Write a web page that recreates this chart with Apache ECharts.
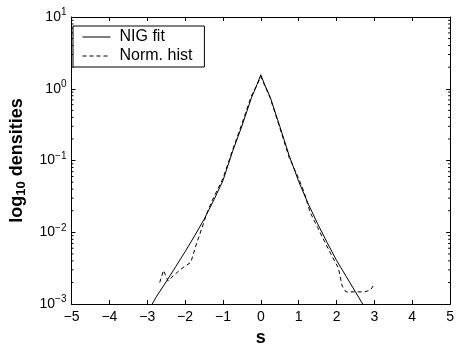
<!DOCTYPE html>
<html>
<head>
<meta charset="utf-8">
<script src="https://cdn.jsdelivr.net/npm/echarts@6/dist/echarts.min.js"></script>
<style>
  html, body { margin: 0; padding: 0; background: #fff; }
  #chart { width: 457px; height: 352px; }
</style>
</head>
<body>
<div id="chart"></div>
<script>
// s values and densities
const nigS = [-3.0, -2.75, -2.5, -2.25, -2.0, -1.75, -1.5, -1.25, -1.0, -0.75, -0.5, -0.25, -0.1, 0,
  0.1, 0.25, 0.5, 0.75, 1.0, 1.25, 1.5, 1.75, 2.0, 2.25, 2.5, 2.75];
const nigDensity = [0.00076, 0.00129, 0.00204, 0.00331, 0.00537, 0.00891, 0.0151, 0.0275, 0.0525, 0.132, 0.302, 0.741, 1.148, 1.567,
  1.148, 0.759, 0.302, 0.117, 0.0513, 0.0251, 0.0132, 0.00724, 0.00407, 0.00245, 0.00148, 0.00089];

const histS = [-2.67, -2.57, -2.45, -2.3, -2.15, -2.0, -1.85, -1.7, -1.55, -1.4, -1.25, -1.0, -0.75, -0.5, -0.25, -0.1, 0,
  0.1, 0.25, 0.5, 0.75, 1.0, 1.15, 1.3, 1.5, 1.65, 1.85, 2.05, 2.15, 2.25, 2.5, 2.75, 2.9, 3.0];
const histDensity = [0.0020, 0.00295, 0.00209, 0.00251, 0.00295, 0.00339, 0.0038, 0.0069, 0.0117, 0.0200, 0.0302, 0.0562, 0.138, 0.324, 0.794, 1.122, 1.479,
  1.122, 0.741, 0.288, 0.110, 0.0562, 0.0355, 0.0191, 0.0117, 0.0081, 0.0050, 0.00316, 0.00178, 0.00148, 0.00148, 0.00148, 0.00158, 0.00191];

const decades = [-3, -2, -1, 0, 1];

// minor log ticks 2..9 x 10^k
const minorTicks = [];
decades.slice(0, -1).forEach((k) => {
  for (let m = 2; m <= 9; m++) minorTicks.push(m * Math.pow(10, k));
});

const font = 'Liberation Sans, Arial, Helvetica, sans-serif';
const chart = echarts.init(document.getElementById('chart'));

const axisLine = { show: true, onZero: false, lineStyle: { color: '#000', width: 1 } };
const tick = { inside: true, length: 4, lineStyle: { color: '#000' } };
const yLabelRich = {
  b: { fontSize: 14, fontFamily: font, color: '#000' },
  e: { fontSize: 10, fontFamily: font, color: '#000', padding: [0, 0, 9, 0] },
};

const option = {
  animation: false,
  backgroundColor: '#fff',
  grid: { left: 71, right: 5, top: 17, bottom: 41 },
  legend: {
    orient: 'vertical',
    left: 73,
    top: 26,
    data: ['NIG fit', 'Norm. hist'],
    itemWidth: 28,
    itemHeight: 12,
    itemGap: 3,
    padding: [3, 12, 3, 9],
    borderColor: '#000',
    borderWidth: 1,
    backgroundColor: '#fff',
    itemStyle: { opacity: 0, borderWidth: 0 },
    lineStyle: { width: 1 },
    textStyle: { fontSize: 16, fontFamily: font, color: '#000', padding: [0, 0, 0, 4] },
  },
  xAxis: [
    {
      type: 'value',
      min: -5,
      max: 5,
      interval: 1,
      name: 's',
      nameLocation: 'middle',
      nameGap: 21,
      nameTextStyle: { fontSize: 18, fontWeight: 'bold', fontFamily: font, color: '#000' },
      axisLine,
      axisTick: tick,
      axisLabel: {
        fontSize: 14,
        fontFamily: font,
        color: '#000',
        margin: 6,
        formatter: (v) => (v < 0 ? '\u2212' + Math.abs(v) : String(v)),
      },
      splitLine: { show: false },
    },
    {
      type: 'value',
      position: 'top',
      min: -5,
      max: 5,
      interval: 1,
      axisLine,
      axisTick: tick,
      axisLabel: { show: false },
      splitLine: { show: false },
    },
  ],
  yAxis: [
    {
      type: 'log',
      logBase: 10,
      min: 0.001,
      max: 10,
      name: '{a|log}{s|10}{a| densities}',
      nameLocation: 'middle',
      nameGap: 44,
      nameTextStyle: {
        rich: {
          a: { fontSize: 18, fontWeight: 'bold', fontFamily: font, color: '#000' },
          s: { fontSize: 13, fontWeight: 'bold', fontFamily: font, color: '#000', padding: [8, 0, 0, 0] },
        },
      },
      axisLine,
      axisTick: tick,
      axisLabel: {
        margin: 5,
        formatter: (v) => {
          const k = Math.round(Math.log10(v));
          return '{b|10}{e|' + (k < 0 ? '\u2212' + Math.abs(k) : k) + '}';
        },
        rich: yLabelRich,
      },
      splitLine: { show: false },
    },
    {
      type: 'log',
      logBase: 10,
      min: 0.001,
      max: 10,
      position: 'right',
      axisLine,
      axisTick: tick,
      axisLabel: { show: false },
      splitLine: { show: false },
    },
  ],
  series: [
    {
      name: 'NIG fit',
      type: 'line',
      data: nigS.map((s, i) => [s, nigDensity[i]]),
      symbol: 'none',
      smooth: false,
      clip: true,
      lineStyle: { color: '#000', width: 1 },
      itemStyle: { color: '#000' },
    },
    {
      name: 'Norm. hist',
      type: 'line',
      data: histS.map((s, i) => [s, histDensity[i]]),
      symbol: 'none',
      smooth: false,
      clip: true,
      lineStyle: { color: '#000', width: 1, type: [4, 3] },
      itemStyle: { color: '#000' },
    },
    {
      name: 'minor',
      type: 'custom',
      data: minorTicks.map((v) => [v]),
      silent: true,
      clip: false,
      renderItem: (params, api) => {
        const v = api.value(0);
        const l = api.coord([-5, v]);
        const r = api.coord([5, v]);
        return {
          type: 'group',
          children: [
            { type: 'line', shape: { x1: l[0], y1: l[1], x2: l[0] + 2, y2: l[1] }, style: { stroke: '#000', lineWidth: 1 } },
            { type: 'line', shape: { x1: r[0], y1: r[1], x2: r[0] - 2, y2: r[1] }, style: { stroke: '#000', lineWidth: 1 } },
          ],
        };
      },
    },
  ],
};

chart.setOption(option);
</script>
</body>
</html>
